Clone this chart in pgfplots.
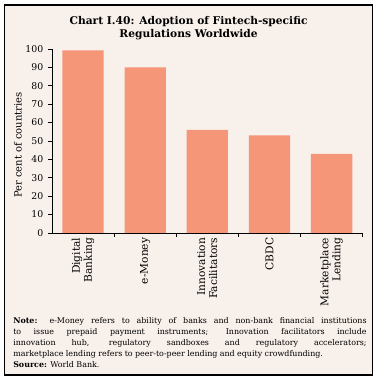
\documentclass[border=0pt]{standalone}
\usepackage{fontspec}
\setmainfont{DejaVu Serif}
\usepackage{pgfplots}
\pgfplotsset{compat=1.18}
\definecolor{bg}{RGB}{248,240,235}
\definecolor{barc}{RGB}{245,150,120}
\begin{document}
\begin{tikzpicture}
\fill[white] (0pt,0pt) rectangle (282.75pt,285.75pt);
\filldraw[fill=bg,draw=black,line width=1pt] (3.2pt,4.5pt) rectangle (279.5pt,282pt);
\node[align=center,font=\bfseries\fontsize{8}{10}\selectfont] at (141.4pt,264.5pt) {Chart I.40: Adoption of Fintech-specific\\Regulations Worldwide};
\node[rotate=90,font=\fontsize{7.5}{9}\selectfont] at (13.5pt,177pt) {Per cent of countries};
\begin{axis}[
  at={(39pt,111pt)}, anchor=south west,
  scale only axis, width=233pt, height=138pt,
  xmin=-0.5, xmax=4.5, ymin=0, ymax=100,
  axis x line*=bottom, axis y line*=left,
  axis line style={line width=0.6pt},
  tick style={black, line width=0.6pt},
  tick align=outside, major tick length=3pt,
  ytick={0,10,...,100},
  yticklabel style={font=\fontsize{7}{8}\selectfont},
  /pgf/number format/assume math mode=true,
  xtick={0.5,1.5,2.5,3.5,4.5},
  xticklabels={},
  extra x ticks={0,1,2,3,4},
  extra x tick labels={{Digital\\Banking},{e-Money},{Innovation\\Facilitators},{CBDC},{Marketplace\\Lending}},
  extra x tick style={major tick length=0pt},
  xticklabel style={rotate=90, anchor=east, align=right, font=\fontsize{8}{9}\selectfont},
]
\addplot[ybar, bar width=0.665, fill=barc, draw=none] coordinates {(0,99.3)(1,90)(2,56)(3,53)(4,43)};
\end{axis}
\node[anchor=north west, inner sep=0pt, text width=265pt, align=justify, font=\fontsize{5.95}{8.25}\selectfont] at (9.75pt,47.5pt) {\spaceskip=0.3em plus 1em minus 0.12em\textbf{Note:} e-Money refers to ability of banks and non-bank financial institutions\linebreak to issue prepaid payment instruments; Innovation facilitators include\linebreak innovation hub, regulatory sandboxes and regulatory accelerators;\linebreak marketplace lending refers to peer-to-peer lending and equity \mbox{crowdfunding.}\\
\textbf{Source:} World Bank.};
\end{tikzpicture}
\end{document}
